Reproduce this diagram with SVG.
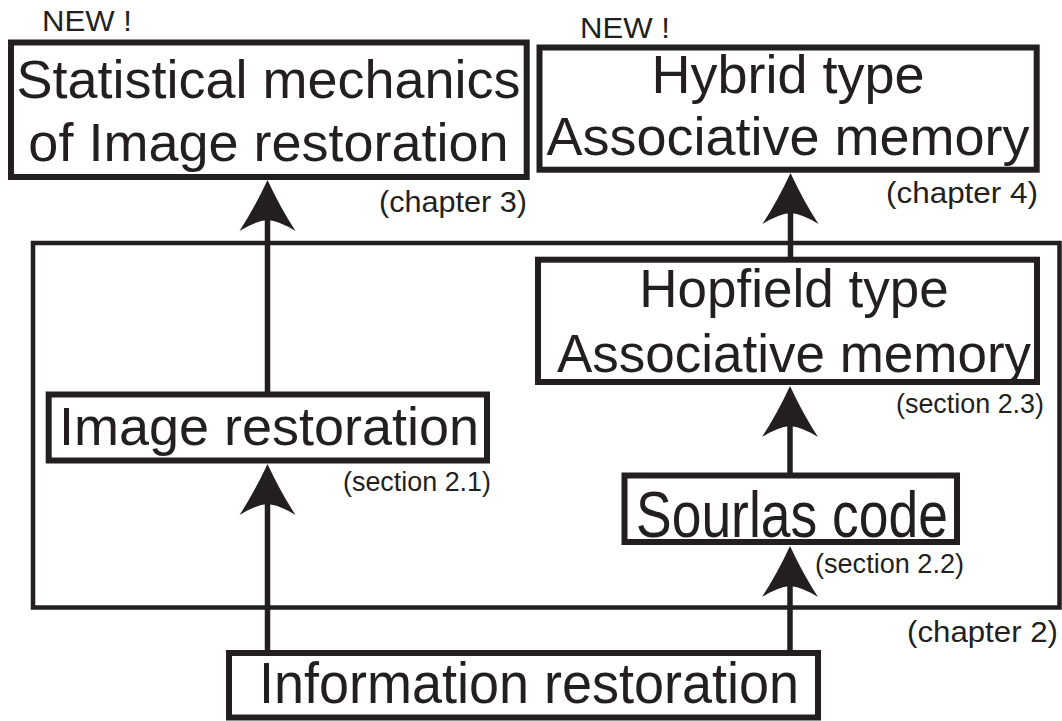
<svg xmlns="http://www.w3.org/2000/svg" xmlns:xlink="http://www.w3.org/1999/xlink" width="1062" height="721" viewBox="0 0 1062 721">
<defs>
<style>
.box{fill:none;stroke:#231f20;stroke-width:6}
.frame{fill:none;stroke:#231f20;stroke-width:4.5}
.shaft{stroke:#231f20;stroke-width:5.5;fill:none}
.ah{fill:#231f20}
text{font-family:"Liberation Sans",Arial,sans-serif;fill:#231f20}
.big{font-size:54px;text-anchor:middle}
.new{font-size:29px}
.chap{font-size:30px}
.sec{font-size:27px}
</style>
<path id="head" d="M0,0 Q13,28 28,51 Q12,41 0,40 Q-12,41 -28,51 Q-13,28 0,0 Z"/>
</defs>
<rect width="1062" height="721" fill="#ffffff"/>

<g id="chapter2-frame">
<rect class="frame" x="33" y="243" width="1026.5" height="364.5"/>
<text class="chap" x="907" y="641.7" textLength="151" lengthAdjust="spacingAndGlyphs">(chapter 2)</text>
</g>

<g id="connectors">
<line class="shaft" x1="267.5" y1="394" x2="267.5" y2="215"/>
<use xlink:href="#head" class="ah" x="267.5" y="180"/>
<line class="shaft" x1="267.5" y1="653" x2="267.5" y2="500"/>
<use xlink:href="#head" class="ah" x="267.5" y="464"/>
<line class="shaft" x1="790.5" y1="259" x2="790.5" y2="210"/>
<use xlink:href="#head" class="ah" x="790.5" y="173"/>
<line class="shaft" x1="790" y1="475" x2="790" y2="420"/>
<use xlink:href="#head" class="ah" x="790" y="386"/>
<line class="shaft" x1="790" y1="653" x2="790" y2="580"/>
<use xlink:href="#head" class="ah" x="790" y="546"/>
</g>

<g id="stat-mech">
<rect class="box" x="11" y="42.5" width="515.7" height="134.5"/>
<text class="new" x="42" y="30.7" textLength="90" lengthAdjust="spacingAndGlyphs">NEW !</text>
<text class="big" x="268.5" y="97.5">Statistical mechanics</text>
<text class="big" x="268.5" y="160.5">of Image restoration</text>
<text class="chap" x="379" y="211.7" textLength="148" lengthAdjust="spacingAndGlyphs">(chapter 3)</text>
</g>

<g id="hybrid">
<rect class="box" x="539.5" y="47.5" width="497.2" height="122.2"/>
<text class="new" x="580" y="37.7" textLength="90" lengthAdjust="spacingAndGlyphs">NEW !</text>
<text class="big" x="788" y="93.3">Hybrid type</text>
<text class="big" x="788" y="155">Associative memory</text>
<text class="chap" x="886" y="203.3" textLength="152" lengthAdjust="spacingAndGlyphs">(chapter 4)</text>
</g>

<g id="hopfield">
<rect class="box" x="538" y="259.7" width="499" height="122.3"/>
<text class="big" x="794" y="307.3" style="font-size:53px">Hopfield type</text>
<text class="big" x="794" y="371.7" style="font-size:53px">Associative memory</text>
<text class="sec" x="896" y="413.3" textLength="148" lengthAdjust="spacingAndGlyphs">(section 2.3)</text>
</g>

<g id="image-restoration">
<rect class="box" x="48.7" y="394.5" width="438.3" height="66"/>
<text class="big" x="269" y="445">Image restoration</text>
<text class="sec" x="343" y="490.7" textLength="148" lengthAdjust="spacingAndGlyphs">(section 2.1)</text>
</g>

<g id="sourlas">
<rect class="box" x="624.5" y="475.5" width="332.5" height="66.5"/>
<text x="636" y="536.7" style="font-size:64px" textLength="312" lengthAdjust="spacingAndGlyphs">Sourlas code</text>
<text class="sec" x="815" y="573" textLength="149" lengthAdjust="spacingAndGlyphs">(section 2.2)</text>
</g>

<g id="information-restoration">
<rect class="box" x="229" y="653" width="589" height="64.5"/>
<text x="259" y="703" style="font-size:58px" textLength="540" lengthAdjust="spacingAndGlyphs">Information restoration</text>
</g>
</svg>
